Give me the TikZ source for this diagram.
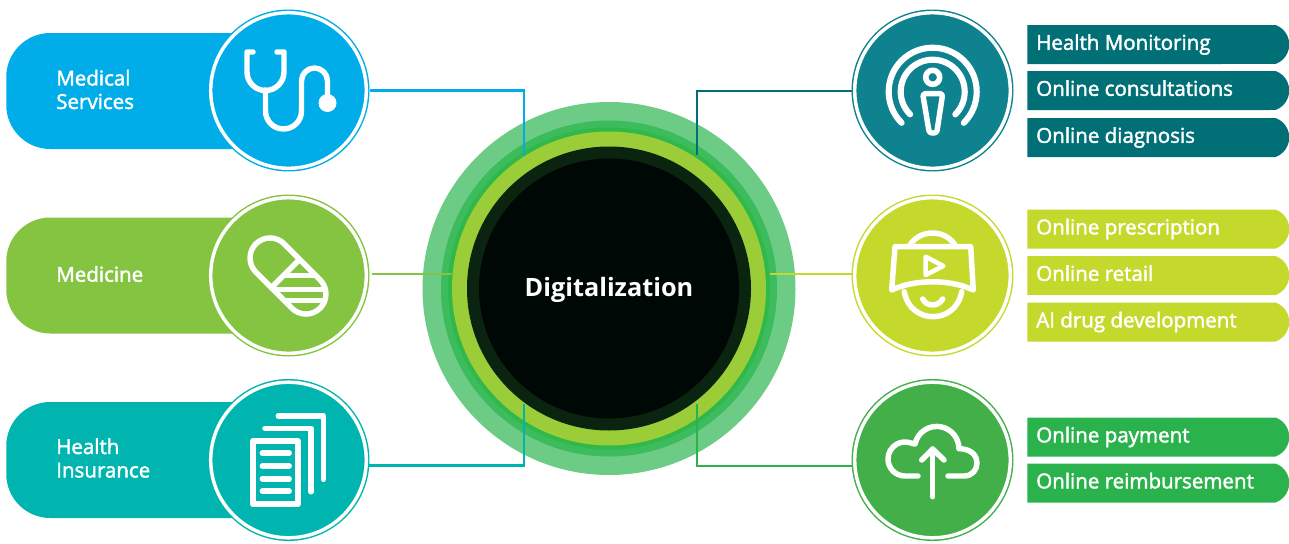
\documentclass[tikz,border=0pt]{standalone}
\usepackage{fontspec}
\setmainfont{Open Sans}
\newfontfamily\semifont[FakeBold=2]{Open Sans}
\usetikzlibrary{calc,shapes.misc}
\definecolor{msblue}{HTML}{00ADE9}
\definecolor{mdgreen}{HTML}{84C441}
\definecolor{hiteal}{HTML}{00B5B0}
\definecolor{rmteal}{HTML}{0F8290}
\definecolor{rmbar}{HTML}{006F76}
\definecolor{rxlime}{HTML}{C5D92D}
\definecolor{paygreen}{HTML}{42AF49}
\definecolor{paybar}{HTML}{2AB34D}
\definecolor{hubA}{HTML}{6CCB84}
\definecolor{hubB}{HTML}{3CBC5C}
\definecolor{hubC}{HTML}{30B84A}
\definecolor{hubD}{HTML}{9ACD37}
\definecolor{hubE}{HTML}{0A2410}
\definecolor{hubF}{HTML}{000805}
\tikzset{
  icon/.style={draw=white,line width=4.1pt,line cap=round,line join=round},
  link/.style={draw=#1,line width=2pt},
  thinlink/.style={draw=#1,line width=1.5pt}
}

\begin{document}
\begin{tikzpicture}[
    x=0.75pt,y=-0.75pt,
    pill/.style={rectangle,rounded corners=33pt,fill=#1,minimum width=283*0.75pt,minimum height=116*0.75pt,anchor=west},
    pilltext/.style={anchor=west,inner sep=0pt,align=left,text=white,font=\semifont\fontsize{15.4}{17.6}\selectfont},
    disc/.style={circle,fill=#1,draw=#1,line width=1.1pt,double=white,double distance=2.6pt,
      minimum size=155.6*0.75pt,inner sep=0pt,outer sep=2.4pt},
    barbox/.style={rounded rectangle,rounded rectangle left arc=none,rounded rectangle arc length=140,fill=#1,
      minimum width=262*0.75pt,minimum height=39*0.75pt,inner sep=0pt,anchor=west},
    barlabel/.style={anchor=west,inner sep=0pt,text height=11pt,text depth=3pt,text=white,font=\semifont\fontsize{15.4}{18}\selectfont},
    hubring/.style={circle,fill=#1,inner sep=0pt,outer sep=0pt}
  ]
    \useasboundingbox (0,0) rectangle (1289,543);

    % left side
    \node (MSpill) at (6,91) [pill=msblue] {};
    \node (MDpill) at (6,275.5) [pill=mdgreen] {};
    \node (HIpill) at (6,460) [pill=hiteal] {};
    \node (MStext) at ($(MSpill.west) + (50,-1.5)$) [pilltext] {Medical\\Services};
    \node (MDtext) at ($(MDpill.west) + (50,-1.5)$) [pilltext] {Medicine};
    \node (HItext) at ($(HIpill.west) + (50,-2)$) [pilltext] {Health\\Insurance};
    \node (MS) at (288.5,90.5) [disc=msblue] {};
    \node (MD) at (288.5,275.5) [disc=mdgreen] {};
    \node (HI) at (288.5,460) [disc=hiteal] {};

    % right side
    \node (RM) at (932.5,90.5) [disc=rmteal] {};
    \node (RX) at (932.5,275.5) [disc=rxlime] {};
    \node (PAY) at (932.5,460) [disc=paygreen] {};

    \node (B1) at (1027,44.5) [barbox=rmbar] {};
    \node (B2) at (1027,90.5) [barbox=rmbar] {};
    \node (B3) at (1027,137.5) [barbox=rmbar] {};
    \node (B4) at (1027,229) [barbox=rxlime] {};
    \node (B5) at (1027,275.5) [barbox=rxlime] {};
    \node (B6) at (1027,322) [barbox=rxlime] {};
    \node (B7) at (1027,437) [barbox=paybar] {};
    \node (B8) at (1027,483) [barbox=paybar] {};
    \node (L1) at ($(B1.west) + (9,0)$) [barlabel] {Health Monitoring};
    \node (L2) at ($(B2.west) + (9,0)$) [barlabel] {Online consultations};
    \node (L3) at ($(B3.west) + (9,0)$) [barlabel] {Online diagnosis};
    \node (L4) at ($(B4.west) + (9,0)$) [barlabel] {Online prescription};
    \node (L5) at ($(B5.west) + (9,0)$) [barlabel] {Online retail};
    \node (L6) at ($(B6.west) + (9,0)$) [barlabel] {AI drug development};
    \node (L7) at ($(B7.west) + (9,0)$) [barlabel] {Online payment};
    \node (L8) at ($(B8.west) + (9,0)$) [barlabel] {Online reimbursement};

    % hub
    \node (HubA) at (609,288.5) [hubring=hubA,minimum size=373*0.75pt] {};
    \node (HubB) at (609,288.5) [hubring=hubB,minimum size=336*0.75pt] {};
    \node (HubC) at (609,288.5) [hubring=hubC,minimum size=322*0.75pt] {};
    \node (HubD) at (609,288.5) [hubring=hubD,minimum size=314*0.75pt] {};
    \node (HubE) at (609,288.5) [hubring=hubE,minimum size=284*0.75pt] {};
    \node (Hub) at (609,288.5) [hubring=hubF,minimum size=260*0.75pt,text=white,text height=16.5pt,text depth=4.5pt,
      font=\bfseries\fontsize{18.95}{22}\selectfont] {Digitalization};

    % connectors
    \draw[link=msblue] (MS.east) -| ($(Hub.center) + (-85,-133.5)$);
    \draw[link=mdgreen] ($(MD.1) + (3,0)$) -- (MD.1 -| HubD.west);
    \draw[link=hiteal] (HI.-4.7) -| ($(Hub.center) + (-85,115.5)$);
    \draw[thinlink=rmbar] (RM.west) -| ($(Hub.center) + (88.3,-133.5)$);
    \draw[thinlink=rxlime] (RX.179) -- (RX.179 -| HubC.east);
    \draw[thinlink=paybar] (PAY.184.7) -| ($(Hub.center) + (88.3,115.5)$);

    % stethoscope
    \draw[icon] (253,52) -- (247,52) -- (247,72) arc[start angle=180,end angle=0,radius=18.5] -- (284,52) -- (277,52);
    \draw[icon] (265.5,90) -- (265.5,111) arc[start angle=180,end angle=0,radius=18] -- (301.5,81)
      arc[start angle=180,end angle=360,radius=13] -- (327.5,103);
    \fill[white] (327.5,103) circle[radius=9];

    % capsule
    \draw[icon] (284.1,243.9) -- (320.1,279.9) arc[start angle=-45,end angle=135,radius=20]
      -- (255.9,272.1) arc[start angle=135,end angle=315,radius=20] -- cycle;
    \draw[icon] (299.6,259.4) -- (271.4,287.6);
    \begin{scope}
      \clip (299.6,259.4) -- (320.1,279.9) arc[start angle=-45,end angle=135,radius=20] -- (271.4,287.6) -- cycle;
      \foreach \ypos in {275.7,289.3,300.3}
        \draw[white,line width=3.8pt] (260,\ypos) -- (335,\ypos);
    \end{scope}

    % documents
    \draw[icon,line width=4.4pt,line cap=butt] (253,441) rectangle (297.7,504.3);
    \foreach \ypos in {453.3,466,478.7,491.3}
      \draw[icon,line width=4.4pt] (262.5,\ypos) -- (289,\ypos);
    \draw[icon,line width=4.2pt] (265,428.3) -- (311,428.3) -- (311,491.7);
    \draw[icon,line width=4.2pt] (278.3,415.7) -- (323.3,415.7) -- (323.3,479.3);

    % podcast
    \draw[icon,line width=4.6pt] (932.7,91.7) ++(135:44) arc[start angle=135,end angle=405,radius=44];
    \draw[icon,line width=4.6pt] (932.7,91.7) ++(135:32) arc[start angle=135,end angle=405,radius=32];
    \draw[icon,line width=4.2pt] (932.7,77.3) circle[radius=7];
    \draw[icon,rounded corners=2pt] (922.7,93.7) -- (942.7,93.7) -- (936.7,133) -- (929.3,133) -- cycle;

    % headset
    \draw[icon] (895,246.7) -- (970.7,246.7) -- (973.3,290) .. controls (950,279) and (915,279) .. (891.7,290) -- cycle;
    \draw[icon] (910,245) .. controls (920,229) and (945,229) .. (955,245);
    \draw[icon] (904.3,291.7) .. controls (910,325) and (956,325) .. (961.7,291.7);
    \draw[icon] (922.7,299) .. controls (927,307) and (938,307) .. (942.7,299);
    \draw[icon,line width=3.4pt] (925.7,256.7) -- (925.7,275) -- (943.3,266) -- cycle;

    % cloud
    \draw[icon] (918,476) -- (905,476) arc[start angle=90,end angle=280,radius=17] -- (915,444)
      arc[start angle=192,end angle=360,radius=22.2] .. controls (972,449) and (977,456) .. (977,463)
      .. controls (977,470) and (972,476) .. (964,476) -- (948,476);
    \draw[icon] (932.7,496.7) -- (932.7,449);
    \draw[icon] (921.7,460) -- (932.7,449) -- (944,460);

  \end{tikzpicture}
\end{document}
